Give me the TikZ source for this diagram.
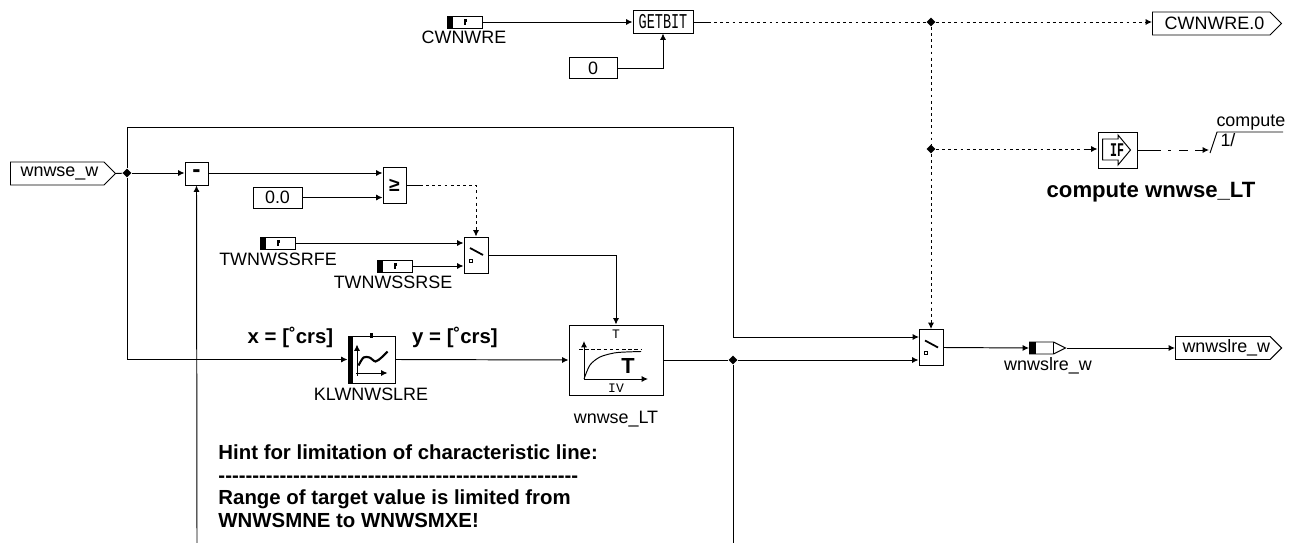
\documentclass[tikz,border=0pt]{standalone}
\usepackage{fontspec}
\usepackage{graphicx}
\usepackage{tikz}
\usetikzlibrary{arrows.meta,calc,shapes.geometric,shapes.symbols}
\setmainfont{Liberation Sans}
\newfontfamily\blockfont{Liberation Mono}
\newfontfamily\hintfont{Liberation Sans}
\newcommand{\txtsize}{\fontsize{10.2}{12.8}\selectfont}
\newcommand{\boldsize}{\fontsize{11.6}{12.8}\selectfont\bfseries}
\newcommand{\monosize}{\blockfont\fontsize{7.4}{8}\selectfont}
\newcommand{\switchicon}[1]{%
  \begin{scope}[shift={(#1.center)}]
    \draw[line width=1pt] (-6,-7) -- (7,0);
    \draw[line width=0.4pt] (-6.5,4) rectangle ++(3,3);
  \end{scope}}

\begin{document}
\begin{tikzpicture}[>={Latex[length=3.6pt,width=3.4pt]},x=0.02cm,y=-0.02cm,line width=0.55pt,
  every node/.style={font=\txtsize,inner sep=0pt},
  lbl/.style={anchor=base},
  dotwire/.style={dash pattern=on 1.6pt off 1.9pt},
  junction/.style={diamond,fill=black,minimum size=0.18cm},
  block/.style={draw,fill=white,minimum width=#1},
  flag/.style 2 args={draw,signal,signal to=east,signal pointer angle=90,anchor=west,minimum height=0.46cm,
    minimum width=#1,execute at begin node={\hspace{#2}}},
  tagbox/.style={draw,minimum width=0.7cm,minimum height=0.24cm,
    path picture={\fill (path picture bounding box.north west) rectangle ++(6,12);
      \fill ($(path picture bounding box.center)+(-0.5,-2.5)$) rectangle ++(3,3);
      \fill ($(path picture bounding box.center)+(-0.5,-2.5)$) rectangle ++(1.5,5.5);}},
  switchbox/.style={draw,minimum width=0.48cm,minimum height=0.72cm}]
  \useasboundingbox (0,0) rectangle (1293,543);
  % top row
  \node[tagbox] (cwnwre) at (464.5,22) {};
  \node[lbl] (cwnwrelbl) at (464,44) {CWNWRE};
  \node[block=1.2cm,minimum height=0.46cm,font=\blockfont\fontsize{12}{12}\selectfont] (getbit) at (663,21.5) {\scalebox{0.64}[1]{GETBIT}};
  \node[block=0.96cm,minimum height=0.42cm] (zero) at (593,68) {0};
  \node[flag={2.58cm}{0.13cm}] (cwnwreout) at (1152,23.5) {CWNWRE.0};
  \node[junction] (jtop) at (931,22) {};
  \node[junction] (jif) at (931,149) {};
  \coordinate (getstub) at (708,22);
  \draw[->] (cwnwre.east) -- (cwnwre.east -| getbit.west);
  \draw[->] (zero.east) -| (getbit.south);
  \draw (getbit.east |- getstub) -- (getstub);
  \draw[dotwire] (getstub) -- (jtop);
  \draw[dotwire,->] (jtop) -- (jtop -| cwnwreout.west);
  % compute trigger
  \node[draw,minimum width=0.78cm,minimum height=0.72cm] (ifblock) at (1117.5,150) {};
  \begin{scope}[shift={(ifblock.center)}]
    \draw (-15,-11) -- (0.5,-11) -- (0.5,-15) -- (13,0) -- (0.5,15) -- (0.5,10) -- (-15,10) -- cycle;
  \end{scope}
  \node[font=\blockfont\bfseries\fontsize{11}{11}\selectfont] (iftxt) at (1117,150) {\scalebox{0.6}[1]{IF}};
  \node[lbl,font=\fontsize{12.6}{13}\selectfont\bfseries] (iflbl) at (1151,198) {compute wnwse\_LT};
  \node[lbl,anchor=base west] (computelbl) at (1216,127) {compute};
  \node[lbl,anchor=base west] (onelbl) at (1220,147) {1/};
  \coordinate (ifstub) at (1085,149);
  \coordinate (trigin) at (1209,150);
  \coordinate (trigfoot) at (1210,153);
  \coordinate (trigtop) at (1217,132);
  \coordinate (trigend) at (1283,132);
  \draw[dotwire] (jif) -- (ifstub);
  \draw[->] (ifstub) -- (ifblock.west |- jif);
  \draw[->,dash pattern=on 13.5pt off 4pt on 1.8pt off 4.5pt on 5pt off 4pt on 9pt] (ifblock.east) -- (trigin);
  \draw (trigfoot) -- (trigtop) -- (trigend);
  % limitation path
  \node[flag={2.1cm}{0.09cm}] (wnwse) at (10,173.5) {wnwse\_w};
  \node[junction] (jin) at (127,173) {};
  \node[block=0.46cm,minimum height=0.46cm,font=\fontsize{14}{14}\selectfont\bfseries] (minus) at (196.5,173.5) {-};
  \node[block=0.46cm,minimum height=0.72cm,font=\fontsize{11}{12}\selectfont\bfseries] (gecmp) at (394.5,185) {≥};
  \node[block=0.98cm,minimum height=0.42cm] (offs) at (277.5,197.5) {0.0};
  \node[switchbox] (swa) at (476,255) {};
  \switchicon{swa}
  \node[tagbox] (rfe) at (277.5,243) {};
  \node[lbl] (rfelbl) at (278,266) {TWNWSSRFE};
  \node[tagbox] (rse) at (394.5,266) {};
  \node[lbl] (rselbl) at (393,289) {TWNWSSRSE};
  \coordinate (retl) at (197,543);
  \coordinate (retr) at (733,543);
  \coordinate (gestub) at (420,185);
  \coordinate (topr) at (733,127);
  \draw (wnwse.east) -- (jin);
  \draw[->] (jin) -- (jin -| minus.west);
  \draw[->] (retl) -- (minus.south);
  \draw[->] (minus.east |- jin) -- (jin -| gecmp.west);
  \draw[->] (offs.east) -- (offs.east -| gecmp.west);
  \draw (gecmp.east) -- (gestub);
  \draw[dotwire,->] (gestub) -| (swa.north);
  \draw[->] (rfe.east) -- (rfe.east -| swa.west);
  \draw[->] (rse.east) -- (rse.east -| swa.west);
  % line and filter
  \node[draw,minimum width=0.94cm,minimum height=0.94cm] (klwn) at (371.5,359.5) {};
  \begin{scope}[shift={(klwn.center)}]
    \fill (-23.5,-23.5) rectangle (-18.5,23.5);
    \draw[->] (-15.5,13.5) -- (16,13.5);
    \draw[->] (-14.5,16) -- (-14.5,-15);
    \draw[line width=1.2pt] plot[smooth] coordinates {(-13,6) (-8,-2) (-2,-2) (4,2) (10,-2) (16,-8)};
    \fill (-1.5,-26.5) rectangle (1.5,-21.5);
  \end{scope}
  \node[lbl] (klwnlbl) at (371,400) {KLWNWSLRE};
  \node[lbl,font=\boldsize] (xlbl) at (290.5,344) {x = [˚crs]};
  \node[lbl,font=\boldsize] (ylbl) at (455,344) {y = [˚crs]};
  \node[draw,minimum width=1.88cm,minimum height=1.4cm] (filt) at (616,360) {};
  \begin{scope}[shift={(filt.center)}]
    \draw[->] (-32,19) -- (32,19);
    \draw[->] (-32,19) -- (-32,-19);
    \draw[dash pattern=on 2pt off 1.5pt] (-37,-11) -- (25,-11);
    \draw plot[smooth] coordinates {(-32,19) (-26,5) (-16,-3) (-2,-7) (10,-8) (25,-8.5)};
  \end{scope}
  \node[font=\monosize] (filtt) at (616,334) {T};
  \node[font=\monosize] (filtiv) at (616,388) {IV};
  \node[font=\fontsize{12.4}{13}\selectfont\bfseries] (filtbig) at (628,366) {T};
  \node[lbl] (filtlbl) at (616,423) {wnwse\_LT};
  \node[junction] (jfilt) at (733,360) {};
  \node[switchbox] (swb) at (931,347.5) {};
  \switchicon{swb}
  \coordinate (swbtop) at (919,337);
  \draw[->] (swa.east) -| (filt.north);
  \draw (jin) |- (topr);
  \draw[->] (jin) |- (klwn.west);
  \draw[->] (klwn.east) -- (filt.west);
  \draw (filt.east) -- (jfilt);
  \draw (jfilt) -- (retr);
  \draw[->] (jfilt) -- (jfilt -| swb.west);
  \draw[->] (topr) |- (swbtop);
  \draw[dotwire] (jtop) -- (jif);
  \draw[dotwire,->] (jif) -- (swb.north);
  % hint
  \node[anchor=base west,align=left,font=\boldsize] (hint) at (218,527)
    {Hint for limitation of characteristic line:\\
     {\hintfont\bfseries -----------------------------------------------------}\\
     Range of target value is limited from\\
     WNWSMNE to WNWSMXE!};
  % output
  \node[draw,signal,signal to=east,signal pointer angle=53,anchor=west,minimum height=0.24cm,minimum width=0.72cm,
    path picture={\fill (path picture bounding box.north west) rectangle ++(6,12);
      \draw ($(path picture bounding box.center)+(6,-6)$) -- ++(0,12);}] (wnwslre) at (1029,348) {};
  \node[lbl] (wnwslrelbl) at (1048,371) {wnwslre\_w};
  \node[flag={2.12cm}{0.14cm}] (wnwslreout) at (1175,348) {wnwslre\_w};
  \draw[->] (swb.east) -- (wnwslre.west);
  \draw[->] (wnwslre.east) -- (wnwslreout.west);
\end{tikzpicture}
\end{document}
